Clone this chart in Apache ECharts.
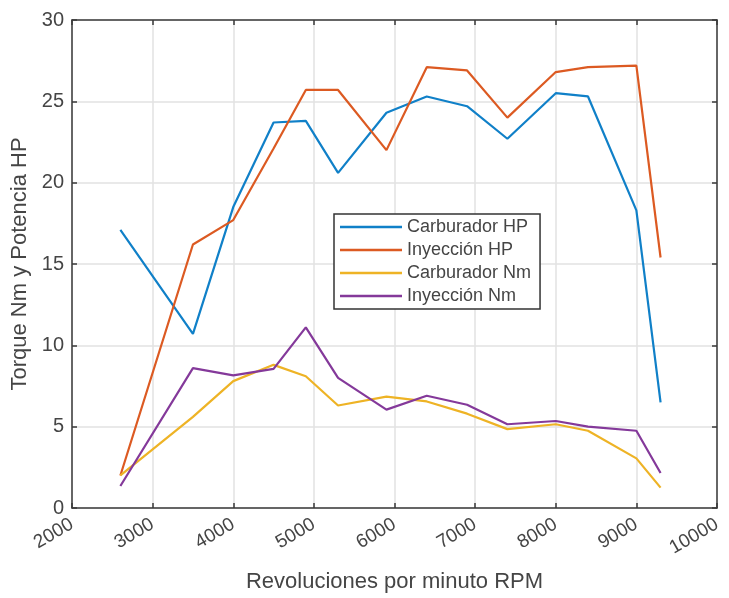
<!DOCTYPE html>
<html>
<head>
<meta charset="utf-8">
<script src="https://cdn.jsdelivr.net/npm/echarts@6/dist/echarts.min.js"></script>
<style>html,body{margin:0;padding:0;background:#fff;}#c{width:729px;height:598px;}</style>
</head>
<body>
<div id="c"></div>
<script>
var rpm = [2600, 3500, 4000, 4500, 4900, 5300, 5900, 6400, 6900, 7400, 8000, 8400, 9000, 9300];
var carburadorHP = [17.1, 10.7, 18.5, 23.7, 23.8, 20.6, 24.3, 25.3, 24.7, 22.7, 25.5, 25.3, 18.3, 6.5];
var inyeccionHP = [2.0, 16.2, 17.7, 22.1, 25.7, 25.7, 22.0, 27.1, 26.9, 24.0, 26.8, 27.1, 27.2, 15.4];
var carburadorNm = [2.0, 5.6, 7.8, 8.8, 8.1, 6.3, 6.85, 6.55, 5.8, 4.85, 5.15, 4.75, 3.05, 1.25];
var inyeccionNm = [1.35, 8.6, 8.15, 8.55, 11.1, 8.0, 6.05, 6.9, 6.35, 5.15, 5.35, 5.0, 4.75, 2.15];
var seriesNames = ['Carburador HP', 'Inyección HP', 'Carburador Nm', 'Inyección Nm'];
var xTitle = 'Revoluciones por minuto RPM';
var yTitle = 'Torque Nm y Potencia HP';

function pairs(xs, ys) { return xs.map(function (x, i) { return [x, ys[i]]; }); }

var FONT = "'Liberation Sans', Arial, sans-serif";
var TXT = '#454545';
var AX = '#3a3a3a';
var colors = ['#1080c8', '#dc5a22', '#eeb325', '#84399a'];
var allY = [carburadorHP, inyeccionHP, carburadorNm, inyeccionNm];

var chart = echarts.init(document.getElementById('c'), null, {renderer: 'canvas'});
chart.setOption({
  backgroundColor: '#ffffff',
  animation: false,
  textStyle: {fontFamily: FONT},
  grid: {left: 72, right: 12, top: 20, bottom: 88},
  legend: {
    orient: 'vertical',
    left: 334, top: 214,
    padding: [4, 9, 4, 6],
    itemGap: 5,
    itemWidth: 62, itemHeight: 2.5,
    icon: 'rect',
    backgroundColor: '#ffffff',
    borderColor: '#333333', borderWidth: 1.5, borderRadius: 0,
    textStyle: {fontSize: 18, color: TXT, fontFamily: FONT, lineHeight: 18, padding: [0, 0, 0, 0]},
    data: seriesNames
  },
  xAxis: [{
    type: 'value', min: 2000, max: 10000, interval: 1000,
    name: xTitle, nameLocation: 'middle', nameGap: 63,
    nameTextStyle: {fontSize: 22, color: TXT, fontFamily: FONT},
    axisLine: {show: true, onZero: false, lineStyle: {color: AX, width: 1.5}},
    axisTick: {show: true, inside: true, length: 5, lineStyle: {color: AX, width: 1.5}},
    axisLabel: {fontSize: 19, color: TXT, rotate: 30, margin: 15, fontFamily: FONT,
      formatter: function (v) { return String(v); }},
    splitLine: {show: true, lineStyle: {color: '#e2e2e2', width: 1.5}}
  }, {
    type: 'value', min: 2000, max: 10000, interval: 1000, position: 'top',
    axisLine: {show: true, onZero: false, lineStyle: {color: AX, width: 1.5}},
    axisTick: {show: true, inside: true, length: 5, lineStyle: {color: AX, width: 1.5}},
    axisLabel: {show: false}, splitLine: {show: false}
  }],
  yAxis: [{
    type: 'value', min: 0, max: 30, interval: 5,
    name: yTitle, nameLocation: 'middle', nameGap: 38, nameRotate: 90,
    nameTextStyle: {fontSize: 22, color: TXT, fontFamily: FONT},
    axisLine: {show: true, onZero: false, lineStyle: {color: AX, width: 1.5}},
    axisTick: {show: true, inside: true, length: 5, lineStyle: {color: AX, width: 1.5}},
    axisLabel: {fontSize: 20, color: TXT, margin: 8, fontFamily: FONT},
    splitLine: {show: true, lineStyle: {color: '#e2e2e2', width: 1.5}}
  }, {
    type: 'value', min: 0, max: 30, interval: 5, position: 'right',
    axisLine: {show: true, onZero: false, lineStyle: {color: AX, width: 1.5}},
    axisTick: {show: true, inside: true, length: 5, lineStyle: {color: AX, width: 1.5}},
    axisLabel: {show: false}, splitLine: {show: false}
  }],
  series: seriesNames.map(function (n, i) {
    return {
      name: n, type: 'line', xAxisIndex: 0, yAxisIndex: 0,
      data: pairs(rpm, allY[i]),
      showSymbol: false, symbol: 'none',
      color: colors[i],
      lineStyle: {width: 2.2, color: colors[i]},
      itemStyle: {color: colors[i]}
    };
  })
});
</script>
</body>
</html>
